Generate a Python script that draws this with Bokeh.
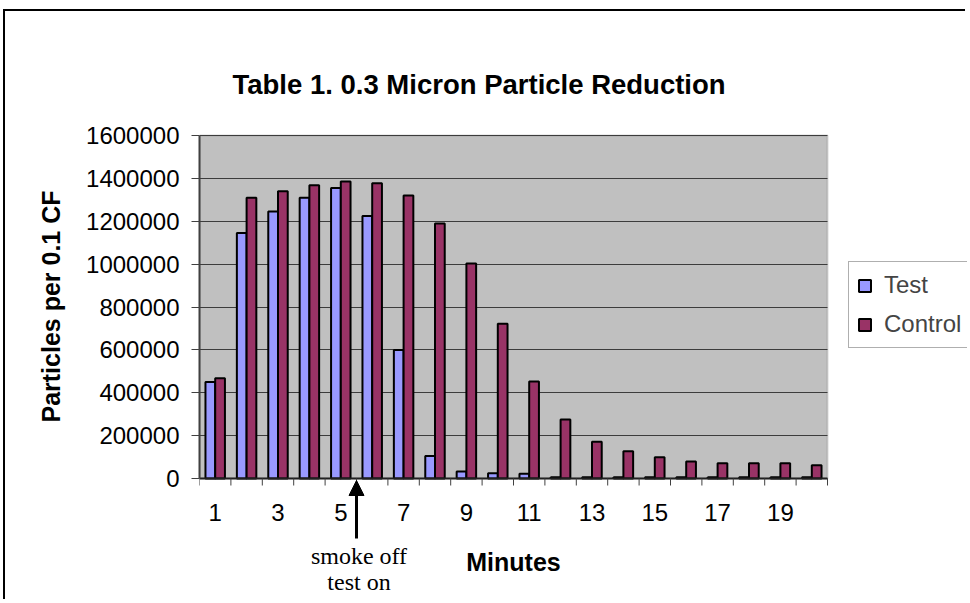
from bokeh.plotting import figure
from bokeh.models import (ColumnDataSource, FixedTicker, Range1d, Legend, LegendItem, Grid,
                          BoxAnnotation, Arrow, NormalHead, Label)
from bokeh.core.properties import value
from bokeh.transform import dodge
from bokeh.embed import file_html
from bokeh.resources import INLINE

# ---- data ----
minutes = list(range(1, 21))
x_tick_values = [1, 3, 5, 7, 9, 11, 13, 15, 17, 19]
x_tick_labels = [str(v) for v in x_tick_values]
x_boundaries = [i + 0.5 for i in range(0, 21)]
test = [450000, 1145000, 1245000, 1310000, 1355000, 1225000, 600000, 105000, 33000, 25000,
        22000, 6000, 6000, 6000, 6000, 6000, 6000, 6000, 6000, 6000]
control = [468000, 1310000, 1340000, 1368000, 1385000, 1377000, 1320000, 1190000, 1003000, 722000,
           452000, 275000, 172000, 127000, 99000, 79000, 71000, 71000, 71000, 62000]
y_ticks = [0, 200000, 400000, 600000, 800000, 1000000, 1200000, 1400000, 1600000]
y_tick_labels = [str(v) for v in y_ticks]
series_names = ["Test", "Control"]
title_text = "Table 1. 0.3 Micron Particle Reduction"
x_title = "Minutes"
y_title = "Particles per 0.1 CF"
note_lines = ["smoke off", "test on"]
note_x = 5.5

# ---- layout constants (pixels) ----
FONT = "Liberation Sans"
W, H = 962, 590
LEFT = 194                      # room for the y axis
FRAME_W, FRAME_H = W - LEFT, H
AREA_W, AREA_H = 628, 343       # grey plot area
AREA_TOP = 124                  # from frame top
AREA_BOTTOM_GAP = FRAME_H - AREA_TOP - AREA_H
Y_MAX = 1600000
X_LO, X_HI = 0.5, 20.5
BASE_FIX = 10                   # text baseline correction

cat_px = AREA_W / (X_HI - X_LO)
ppu = AREA_H / Y_MAX            # pixels per data unit


def below(px):
    """data y that lies px pixels below the zero line"""
    return -px / ppu


def above_top(px):
    return Y_MAX + px / ppu


src = ColumnDataSource(dict(minute=minutes, test=test, control=control))

p = figure(width=W, height=H, output_backend="svg", toolbar_location=None,
           x_range=Range1d(X_LO, X_LO + FRAME_W / cat_px),
           y_range=Range1d(below(AREA_BOTTOM_GAP), above_top(AREA_TOP)),
           min_border=0, min_border_left=LEFT)
p.styles = {"border-left": "2px solid #000", "border-top": "2px solid #000",
            "margin-left": "3px", "margin-top": "9px"}
p.title.visible = False
p.background_fill_color = "white"
p.border_fill_color = "white"
p.outline_line_color = None
p.xaxis.visible = False
p.xgrid.visible = False
p.ygrid.visible = False

# grey plot area
area = BoxAnnotation(left=X_LO, right=X_HI, bottom=0, top=Y_MAX, fill_color="#C0C0C0", fill_alpha=1,
                     line_color="#808080", line_width=2, level="underlay")
p.add_layout(area)

# horizontal grid lines limited to the plot area
grid = Grid(dimension=1, ticker=FixedTicker(ticks=y_ticks), grid_line_color="#3C3C3C",
            grid_line_width=1, level="underlay")
if "cross_bounds" in grid.properties():
    grid.cross_bounds = (X_LO, X_HI)
    p.add_layout(grid)
else:
    p.segment(x0=[X_LO] * len(y_ticks), x1=[X_HI] * len(y_ticks), y0=y_ticks, y1=y_ticks,
              line_color="#3C3C3C", line_width=1)

# y axis
ya = p.yaxis[0]
ya.bounds = (0, Y_MAX)
ya.ticker = FixedTicker(ticks=y_ticks)
ya.major_label_overrides = {v: s for v, s in zip(y_ticks, y_tick_labels)}
ya.major_label_text_font = FONT
ya.major_label_text_font_size = "24px"
ya.major_label_text_color = "black"
ya.major_tick_out = 8
ya.major_tick_in = 0
ya.minor_tick_out = 0
ya.minor_tick_in = 0
ya.major_tick_line_color = "#404040"
ya.major_label_standoff = 12
ya.axis_line_color = "#404040"
ya.axis_line_width = 2
ya.axis_label = y_title
ya.axis_label_text_font = FONT
ya.axis_label_text_font_size = "25px"
ya.axis_label_text_font_style = "bold"
ya.axis_label_text_color = "black"
ya.axis_label_standoff = 18

# bars
r1 = p.vbar(x=dodge("minute", -0.155, range=p.x_range), top="test", width=0.31, source=src,
            fill_color="#9999FF", line_color="black", line_width=2)
r2 = p.vbar(x=dodge("minute", 0.155, range=p.x_range), top="control", width=0.31, source=src,
            fill_color="#993366", line_color="black", line_width=2)

# category axis (line, ticks between categories, labels on odd minutes)
p.segment(x0=[X_LO], x1=[X_HI], y0=[0], y1=[0], line_color="#202020", line_width=2)
p.segment(x0=x_boundaries, x1=x_boundaries, y0=[0] * len(x_boundaries),
          y1=[below(7)] * len(x_boundaries), line_color="#404040", line_width=1)
p.text(x=x_tick_values, y=[below(44 - BASE_FIX)] * len(x_tick_values), text=x_tick_labels,
       text_align="center", text_baseline="alphabetic", text_font=value(FONT),
       text_font_size=value("24px"), text_color="black")
p.add_layout(Label(x=(X_LO + X_HI) / 2, y=below(93 - BASE_FIX), text=x_title, text_align="center",
                   text_baseline="alphabetic", text_font=FONT, text_font_size="25px",
                   text_font_style="bold", text_color="black"))

# title
p.add_layout(Label(x=X_LO + 33 / cat_px, y=above_top(135 - 94 + BASE_FIX), text=title_text,
                   text_align="left", text_baseline="alphabetic", text_font=FONT,
                   text_font_size="27.5px", text_font_style="bold", text_color="black"))

# legend
legend = Legend(items=[LegendItem(label=series_names[0], renderers=[r1]),
                       LegendItem(label=series_names[1], renderers=[r2])],
                location=(649, FRAME_H - 348 + 11), orientation="vertical",
                label_text_font=FONT, label_text_font_size="24px",
                glyph_width=15, glyph_height=15, label_standoff=12, label_width=85,
                padding=8, spacing=9, label_height=30, margin=0,
                border_line_color="#606060", border_line_width=1,
                background_fill_color="white", background_fill_alpha=1)
p.add_layout(legend, "center")

# annotation: arrow and note
p.add_layout(Arrow(end=NormalHead(size=15, fill_color="black", line_color="black"),
                   x_start=note_x, y_start=below(60), x_end=note_x, y_end=below(2),
                   line_width=3, line_color="black"))
for line, base in zip(note_lines, [87, 113.7]):
    p.add_layout(Label(x=note_x + 2.5 / cat_px, y=below(base - BASE_FIX), text=line,
                       text_align="center", text_baseline="alphabetic",
                       text_font="Liberation Serif", text_font_size="24px", text_color="black"))

open("out.html", "w").write(file_html(p, INLINE))
